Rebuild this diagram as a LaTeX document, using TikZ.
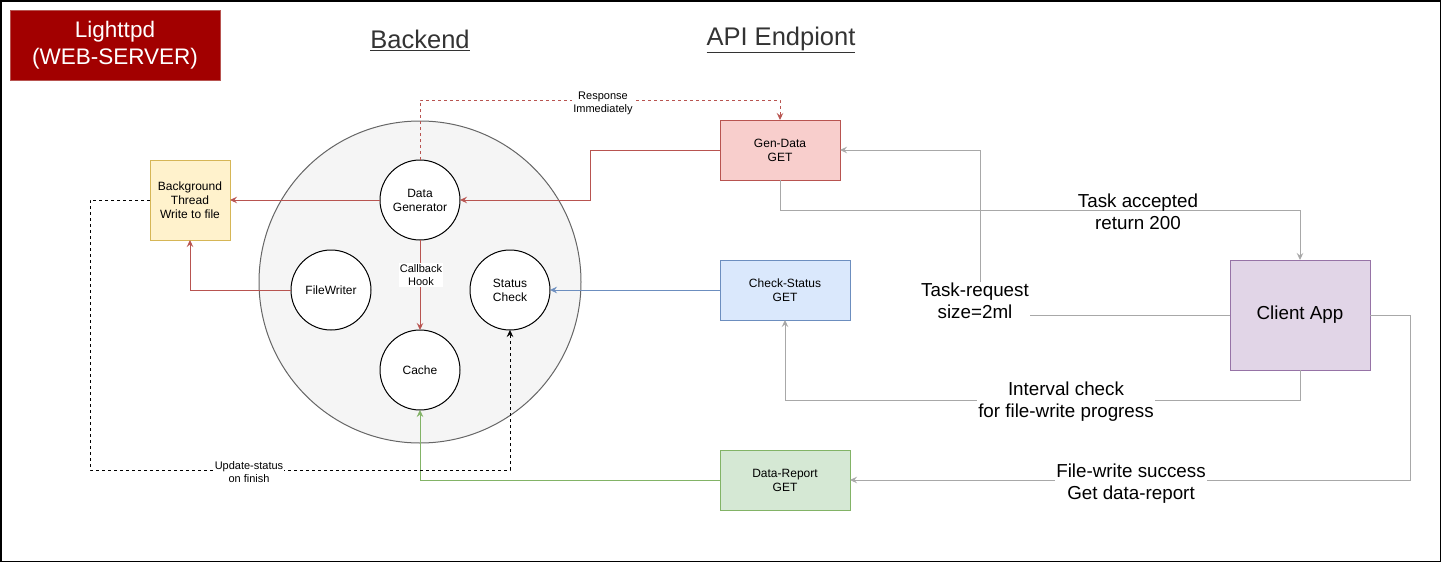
\documentclass[tikz,border=0pt]{standalone}
\usepackage{fontspec}
\setmainfont{Liberation Sans}
\usepackage{xcolor}
\usepackage{tikz}
\usetikzlibrary{positioning,arrows.meta,calc}

\definecolor{srvRed}{HTML}{A20000}
\definecolor{srvLine}{HTML}{B85450}
\definecolor{ringFill}{HTML}{F5F5F5}
\definecolor{ringLine}{HTML}{666666}
\definecolor{bgFill}{HTML}{FFF2CC}
\definecolor{bgLine}{HTML}{D6B656}
\definecolor{genFill}{HTML}{F8CECC}
\definecolor{genLine}{HTML}{B85450}
\definecolor{chkFill}{HTML}{DAE8FC}
\definecolor{chkLine}{HTML}{6C8EBF}
\definecolor{repFill}{HTML}{D5E8D4}
\definecolor{repLine}{HTML}{82B366}
\definecolor{cliFill}{HTML}{E1D5E7}
\definecolor{cliLine}{HTML}{9673A6}
\definecolor{wireGray}{HTML}{A8A8A8}
\definecolor{headGray}{HTML}{333333}

\begin{document}
\begin{tikzpicture}[
    x=1pt, y=-1pt,
    >={Stealth[length=7pt,width=6.5pt,inset=2.5pt]},
    srvbox/.style={
        draw=srvLine, line width=1pt,
        fill=srvRed, text=white,
        minimum width=210, minimum height=70,
        inner sep=0pt, outer sep=0pt, align=center,
        font=\fontsize{22.5}{27}\selectfont
    },
    heading/.style={
        text=headGray, inner sep=0pt,
        font=\fontsize{25.5}{30}\selectfont
    },
    ring/.style={
        circle, draw=ringLine, line width=1pt, fill=ringFill,
        minimum size=322, inner sep=0pt, outer sep=0pt
    },
    circ/.style={
        circle, draw=black, line width=1pt, fill=white,
        minimum size=80, inner sep=0pt, outer sep=0pt,
        align=center, font=\fontsize{12}{14}\selectfont
    },
    api/.style={
        line width=1pt,
        minimum width=130, minimum height=60,
        inner sep=0pt, outer sep=0pt,
        align=center, font=\fontsize{12}{14}\selectfont
    },
    elbl/.style={
        fill=white, inner sep=1pt, align=center,
        font=\fontsize{11}{13}\selectfont
    },
    biglbl/.style={
        fill=white, inner sep=1pt, align=center,
        font=\fontsize{18.8}{22}\selectfont
    },
    redwire/.style={->, draw=srvLine, line width=1pt},
    graywire/.style={->, draw=wireGray, line width=1pt}
]

% frame
\draw[line width=1.5pt] (0.75,0.75) rectangle (1440.25,561.25);

% titles
\node[srvbox] (srv) at (115,45) {Lighttpd\\(WEB-SERVER)};
\node[heading] (hBack) at (420,40) {\underline{Backend}};
\node[heading] (hApi) at (781,40) {\underline{API Endpiont}};

% backend
\node[ring] (backend) at (420,282) {};
\node[circ] (dg) at (420,200) {Data\\Generator};
\node[circ] (fw) at (331,290) {FileWriter};
\node[circ] (stat) at (510,290) {Status\\Check};
\node[circ] (cache) at (420,370) {Cache};
\node[api, fill=bgFill, draw=bgLine, minimum width=80, minimum height=80]
    (bg) at (190,200) {Background\\Thread\\Write to file};

% endpoints
\node[api, fill=genFill, draw=genLine, minimum width=120] (gen) at (780,150) {Gen-Data\\GET};
\node[api, fill=chkFill, draw=chkLine] (chk) at (785,290) {Check-Status\\GET};
\node[api, fill=repFill, draw=repLine] (rep) at (785,480) {Data-Report\\GET};
\node[api, fill=cliFill, draw=cliLine, minimum width=140, minimum height=110,
    font=\fontsize{18.8}{22}\selectfont] (client) at (1300,315) {Client App};

% backend wiring
\draw[redwire, dashed] (dg.north) -- ++(0,-60) -| (gen.north);
\draw[redwire] (gen.west) -- ++(-130,0) |- (dg.east);
\draw[redwire] (dg.west) -- (bg.east);
\draw[redwire] (fw.west) -| (bg.south);
\draw[redwire] (dg.south) -- (cache.north);
\draw[->, draw=chkLine] (chk.west) -- (stat.east);
\draw[->, draw=repLine] (rep.west) -| (cache.south);
\draw[->, dashed] (bg.west) -- ++(-60,0) |- ++(420,270) -- (stat.south);

% client wiring
\draw[graywire] (gen.south) -- ++(0,30) -| (client.north);
\draw[graywire] (client.west) -- ++(-250,0) |- (gen.east);
\draw[graywire] (client.south) -- ++(0,30) -| (chk.south);
\draw[graywire] (client.east) -- ++(40,0) |- (rep.east);

% labels
\node[elbl] (lResp) at (603,103) {Response\\Immediately};
\node[elbl] (lHook) at (421,275) {Callback\\Hook};
\node[elbl] (lUpd) at (249,472.5) {Update-status\\on finish};
\node[biglbl, fill=none] (lAcc) at (1138,212) {Task accepted\\return 200};
\node[biglbl] (lReq) at (975,301) {Task-request\\size=2ml};
\node[biglbl] (lInt) at (1066,402) {Interval check\\for file-write progress};
\node[biglbl] (lSucc) at (1131,484) {File-write success\\Get data-report};

\end{tikzpicture}
\end{document}
